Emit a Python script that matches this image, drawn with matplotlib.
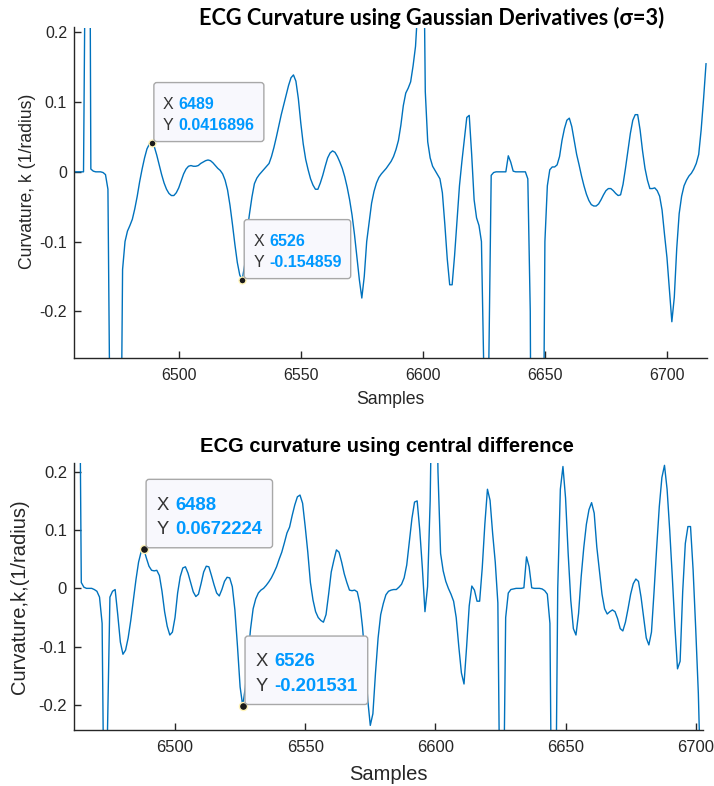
import numpy as np
import matplotlib
matplotlib.use("Agg")
import matplotlib.pyplot as plt
import matplotlib.transforms as mtransforms
from matplotlib.patches import FancyBboxPatch

# curvature from gaussian derivatives, samples 6457..6716
gauss_start = 6457
gauss_curv = [
    0.0, 0.0, 0.0, 0.0, 0.0, 0.45, 0.9, 0.004, 0.001, 0.0,
    0.0, 0.0, -0.001, -0.004, -0.025, -0.43, -0.8, -0.9, -0.7, -0.55,
    -0.14, -0.1, -0.085, -0.077, -0.068, -0.053, -0.035, -0.014, 0.004, 0.02,
    0.033, 0.04, 0.0416896, 0.036, 0.024, 0.01, -0.004, -0.016, -0.025, -0.031,
    -0.034, -0.034, -0.03, -0.023, -0.013, -0.003, 0.004, 0.008, 0.009, 0.008,
    0.008, 0.009, 0.012, 0.014, 0.016, 0.017, 0.016, 0.013, 0.009, 0.005,
    0.002, -0.003, -0.012, -0.026, -0.048, -0.075, -0.104, -0.13, -0.148, -0.154859,
    -0.134, -0.086, -0.06, -0.036, -0.017, -0.009, -0.004, 0.0, 0.004, 0.008,
    0.012, 0.022, 0.035, 0.05, 0.066, 0.082, 0.096, 0.11, 0.124, 0.135,
    0.139, 0.13, 0.105, 0.07, 0.04, 0.018, 0.003, -0.01, -0.019, -0.025,
    -0.025, -0.016, -0.005, 0.008, 0.02, 0.027, 0.03, 0.028, 0.022, 0.014,
    0.005, -0.007, -0.022, -0.04, -0.062, -0.09, -0.122, -0.155, -0.181, -0.15,
    -0.1, -0.073, -0.045, -0.028, -0.016, -0.008, -0.003, 0.001, 0.005, 0.01,
    0.015, 0.022, 0.032, 0.045, 0.067, 0.095, 0.113, 0.12, 0.129, 0.152,
    0.18, 0.24, 0.7, 0.45, 0.115, 0.043, 0.02, 0.008, 0.002, -0.004,
    -0.01, -0.03, -0.075, -0.125, -0.162, -0.162, -0.12, -0.07, -0.02, 0.015,
    0.046, 0.078, 0.081, 0.025, -0.04, -0.066, -0.077, -0.1, -0.29, -0.9,
    -0.28, -0.005, -0.001, 0.0, 0.0, 0.0, 0.0, 0.0, 0.023, 0.014,
    0.001, 0.0, 0.0, 0.0, 0.0, 0.0, -0.01, -0.2, -0.9, -0.9,
    -0.9, -0.9, -0.6, -0.1, -0.02, 0.003, 0.007, 0.007, 0.01, 0.022,
    0.045, 0.062, 0.074, 0.077, 0.065, 0.045, 0.025, 0.01, -0.006, -0.02,
    -0.032, -0.041, -0.047, -0.049, -0.049, -0.046, -0.04, -0.033, -0.027, -0.024,
    -0.024, -0.027, -0.031, -0.034, -0.033, -0.018, 0.005, 0.03, 0.055, 0.074,
    0.082, 0.082, 0.06, 0.03, 0.005, -0.012, -0.024, -0.024, -0.023, -0.027,
    -0.035, -0.055, -0.09, -0.123, -0.17, -0.215, -0.18, -0.11, -0.06, -0.035,
    -0.02, -0.012, -0.006, -0.002, 0.004, 0.012, 0.025, 0.06, 0.105, 0.155,
]

# curvature from central difference, samples 6461..6702
cdiff_start = 6461
cdiff_curv = [
    0.0, 0.6, 0.6, 0.01, 0.002, 0.0, 0.0, 0.0, -0.002, -0.005,
    -0.015, -0.06, -0.52, -0.26, -0.015, -0.005, -0.002, -0.045, -0.092, -0.113,
    -0.106, -0.085, -0.055, -0.02, 0.015, 0.045, 0.063, 0.0672224, 0.052, 0.038,
    0.031, 0.03, 0.031, 0.022, -0.005, -0.04, -0.065, -0.08, -0.075, -0.05,
    -0.008, 0.02, 0.035, 0.037, 0.026, 0.01, -0.006, -0.014, -0.01, 0.008,
    0.028, 0.038, 0.037, 0.022, 0.006, -0.008, -0.013, -0.002, 0.012, 0.019,
    0.018, 0.003, -0.037, -0.1, -0.169, -0.201531, -0.17, -0.12, -0.07, -0.035,
    -0.018, -0.008, -0.003, 0.0, 0.005, 0.011, 0.018, 0.027, 0.037, 0.05,
    0.062, 0.078, 0.095, 0.105, 0.125, 0.143, 0.157, 0.16, 0.146, 0.106,
    0.062, 0.01, -0.02, -0.04, -0.05, -0.055, -0.058, -0.045, -0.01, 0.028,
    0.048, 0.066, 0.062, 0.045, 0.025, 0.01, -0.003, -0.004, -0.003, -0.006,
    -0.026, -0.066, -0.12, -0.19, -0.235, -0.215, -0.145, -0.085, -0.045, -0.026,
    -0.011, -0.005, -0.003, -0.002, -0.002, 0.002, 0.007, 0.018, 0.04, 0.08,
    0.12, 0.148, 0.15, 0.1, 0.035, -0.04, 0.003, 0.15, 0.45, 0.5,
    0.2, 0.06, 0.03, 0.012, 0.0, -0.01, -0.022, -0.05, -0.1, -0.145,
    -0.164, -0.1, -0.03, 0.004, -0.003, -0.022, -0.022, 0.035, 0.11, 0.17,
    0.151, 0.094, 0.045, -0.025, -0.48, -0.45, -0.05, -0.008, -0.002, -0.001,
    0.0, 0.0, 0.0, 0.001, 0.054, 0.037, 0.001, 0.0, 0.0, 0.0,
    -0.001, -0.004, -0.01, -0.06, -0.6, -0.5, 0.0, 0.17, 0.209, 0.155,
    0.06, -0.02, -0.069, -0.08, -0.043, 0.02, 0.07, 0.11, 0.135, 0.147,
    0.129, 0.071, 0.03, -0.01, -0.035, -0.044, -0.04, -0.037, -0.04, -0.052,
    -0.069, -0.073, -0.058, -0.035, -0.01, 0.008, 0.016, 0.012, -0.015, -0.05,
    -0.085, -0.097, -0.075, -0.005, 0.07, 0.14, 0.19, 0.211, 0.17, 0.1,
    0.02, -0.065, -0.138, -0.125, -0.005, 0.077, 0.106, 0.106, 0.031, -0.07,
    -0.18, -0.35,
]

gauss_tips = [6489, 6526]
cdiff_tips = [6488, 6526]

xticks = [6500, 6550, 6600, 6650, 6700]
yticks = [-0.2, -0.1, 0, 0.1, 0.2]
ytick_labels = ["-0.2", "-0.1", "0", "0.1", "0.2"]

LINE = "#0072BD"
AXC = "#262626"
TIPBLUE = "#0099FF"
FONT = ["Liberation Sans", "DejaVu Sans"]

fig = plt.figure(figsize=(7.14, 7.86), dpi=100)


def style_axes(ax, xlim, ylim, fs):
    ax.set_xlim(*xlim)
    ax.set_ylim(*ylim)
    for side in ("top", "right"):
        ax.spines[side].set_visible(False)
    for side in ("left", "bottom"):
        ax.spines[side].set_color(AXC)
        ax.spines[side].set_linewidth(1.0)
    ax.set_xticks(xticks)
    ax.set_xticklabels([str(t) for t in xticks], family=FONT)
    ax.set_yticks(yticks)
    ax.set_yticklabels(ytick_labels, family=FONT)
    ax.tick_params(direction="in", length=5, width=1.0, colors=AXC,
                   labelsize=fs)
    ax.tick_params(axis="x", pad=7)
    ax.tick_params(axis="y", pad=5)


def datatip(ax, xs, ys, s):
    # MATLAB-like data tip: dot + rounded box, laid out in pixels from the point
    fs = 11.5 * s
    tr = mtransforms.ScaledTranslation(xs, ys, ax.transData)
    ax.plot([xs], [ys], "o", ms=5 * s, color="#1a1a1a", mec="#fff4b8",
            mew=1.0, zorder=6, clip_on=False)
    kw = dict(transform=tr, fontsize=fs, va="baseline", zorder=8,
              family=FONT, clip_on=False)
    ax.text(11 * s, 34 * s, "X", color="#333333", **kw)
    ax.text(11 * s, 13 * s, "Y", color="#333333", **kw)
    t1 = ax.text(27 * s, 34 * s, f"{xs:d}", color=TIPBLUE,
                 fontweight="bold", **kw)
    t2 = ax.text(27 * s, 13 * s, f"{ys:.6g}", color=TIPBLUE,
                 fontweight="bold", **kw)
    fig.canvas.draw()
    r = fig.canvas.get_renderer()
    p0 = ax.transData.transform((xs, ys))[0]
    right = max(t1.get_window_extent(r).x1, t2.get_window_extent(r).x1) - p0
    box = FancyBboxPatch((2 * s, 1.2 * s), right + 9 * s - 2 * s, 59 * s,
                         boxstyle="round,pad=0,rounding_size=3",
                         transform=tr, facecolor="#f8f8fd",
                         edgecolor="#a8a8a8", linewidth=1.0, zorder=7,
                         clip_on=False)
    ax.add_patch(box)


# top panel: gaussian derivatives
ax1 = fig.add_axes([74 / 714, 1 - 358 / 786, 633 / 714, 330.5 / 786])
x1 = np.arange(gauss_start, gauss_start + len(gauss_curv))
y1 = np.array(gauss_curv)
ax1.plot(x1, y1, color=LINE, lw=1.0)
style_axes(ax1, (6457.1, 6716.4), (-0.267, 0.207), 11.5)
ax1.set_xlabel("Samples", fontsize=12.7, color=AXC, family=FONT, va="center")
ax1.xaxis.set_label_coords(0.5, -0.127)
ax1.set_ylabel("Curvature, k (1/radius)", fontsize=12.7, color=AXC,
               family=FONT, va="center")
ax1.yaxis.set_label_coords(-0.074, 0.535)
fig.text(432 / 714, 1 - 18 / 786,
         "ECG Curvature using Gaussian Derivatives (\u03c3=3)",
         ha="center", va="center", fontsize=15.6, fontweight="bold",
         family=["Lato", "DejaVu Sans"], color="black")
for t in gauss_tips:
    datatip(ax1, t, gauss_curv[t - gauss_start], 1.0)

# bottom panel: central difference
ax2 = fig.add_axes([74 / 714, 1 - 730 / 786, 628.5 / 714, 267 / 786])
x2 = np.arange(cdiff_start, cdiff_start + len(cdiff_curv))
y2 = np.array(cdiff_curv)
ax2.plot(x2, y2, color=LINE, lw=1.0)
style_axes(ax2, (6461.2, 6702.6), (-0.2429, 0.215), 12.0)
ax2.set_xlabel("Samples", fontsize=14.5, color=AXC, family=FONT, va="center")
ax2.xaxis.set_label_coords(0.5, -0.1685)
ax2.set_ylabel("Curvature,k,(1/radius)", fontsize=14.5, color=AXC,
               family=FONT, va="center")
ax2.yaxis.set_label_coords(-0.086, 0.5)
fig.text(387 / 714, 1 - 447 / 786, "ECG curvature using central difference",
         ha="center", va="center", fontsize=14.5, fontweight="bold",
         family=FONT, color="black")
for t in cdiff_tips:
    datatip(ax2, t, cdiff_curv[t - cdiff_start], 1.16)

fig.savefig("out.png", dpi=100)
